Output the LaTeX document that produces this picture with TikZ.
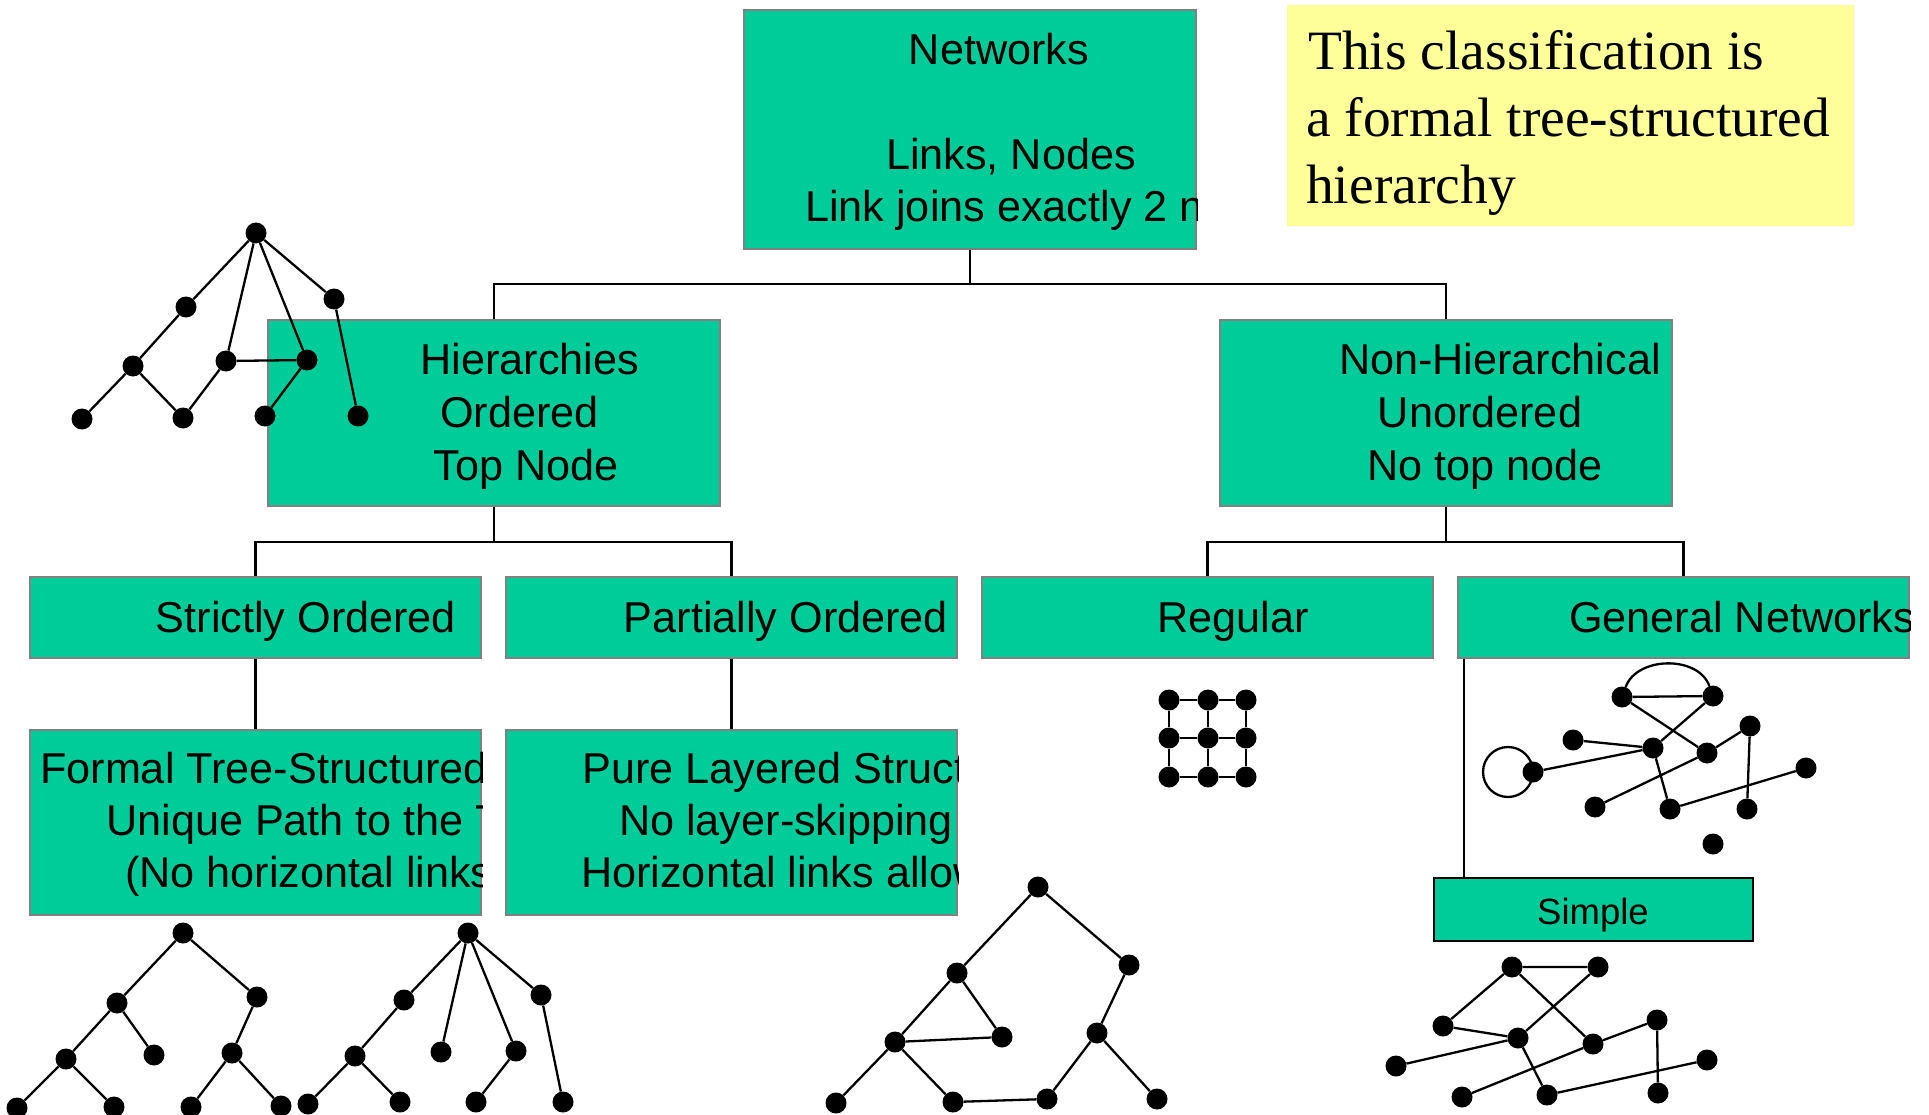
\documentclass[tikz,border=0pt]{standalone}
\usepackage{fontspec}
\setmainfont{Liberation Sans}
\newfontfamily\notefont{Liberation Serif}
\definecolor{boxgreen}{RGB}{0,204,153}
\definecolor{noteyellow}{RGB}{255,255,153}
\tikzset{
	box/.style={rectangle, draw=gray, line width=2.5pt, fill=boxgreen, inner sep=0},
	txt/.style={inner sep=0, anchor=base, font=\fontsize{43.2}{53}\selectfont},
	txtl/.style={txt, anchor=base west},
	notetxt/.style={inner sep=0, anchor=base west, font=\notefont\fontsize{55.5}{66}\selectfont},
	conn/.style={line width=2.2pt},
	vtx/.style={circle, fill=black, inner sep=0, minimum size=21pt},
	lnk/.style={line width=2.3pt}
}

\begin{document}
\begin{tikzpicture}[x=1pt, y=-1pt]
	\useasboundingbox (0,0) rectangle (1929,1115);
	% boxes
	\node[box, minimum width=452pt, minimum height=239pt] (net) at (970,129.5) {};
	\node[fill=noteyellow, inner sep=0, minimum width=567pt, minimum height=221pt] (note) at (1570.5,115.5) {};
	\node[box, minimum width=452pt, minimum height=186pt] (hier) at (494,413) {};
	\node[box, minimum width=452pt, minimum height=186pt] (nonh) at (1446,413) {};
	\node[box, minimum width=451pt, minimum height=81pt] (strict) at (255.5,617.5) {};
	\node[box, minimum width=451pt, minimum height=81pt] (partial) at (731.5,617.5) {};
	\node[box, minimum width=451pt, minimum height=81pt] (regular) at (1207.5,617.5) {};
	\node[box, minimum width=451pt, minimum height=81pt] (general) at (1683.5,617.5) {};
	\node[box, minimum width=451pt, minimum height=185pt] (formal) at (255.5,822.5) {};
	\node[box, minimum width=451pt, minimum height=185pt] (pure) at (731.5,822.5) {};
	\node[box, draw=black, line width=2.8pt, minimum width=319pt, minimum height=63pt] (simple) at (1593.5,909.5) {};

	% connectors
	\draw[conn] (net.south) -- ++(0,34) coordinate (j1);
	\draw[conn] (hier.north) |- (j1) -| (nonh.north);
	\draw[conn] (hier.south) -- ++(0,35) coordinate (j2);
	\draw[conn] (strict.north) |- (j2) -| (partial.north);
	\draw[conn] (nonh.south) -- ++(0,35) coordinate (j3);
	\draw[conn] (regular.north) |- (j3) -| (general.north);
	\draw[conn] (strict) -- (formal);
	\draw[conn] (partial) -- (pure);
	\coordinate (g0) at ([xshift=7.5pt]general.south west);
	\draw[conn] (g0) -- (g0 |- simple.north);

	% texts
	\node[txt] (netA) at (999,65) {Networks};
	\node[txt] (netB) at (1011,170) {Links, Nodes};
	\begin{scope}
		\clip (net.south west) rectangle (net.north east);
		\node[txtl] (netC) at (805,222) {Link joins exactly 2 n};
	\end{scope}
	\node[notetxt] (noteA) at (1308,70) {This classification is};
	\node[notetxt] (noteB) at (1306,137) {a formal tree-structured};
	\node[notetxt] (noteC) at (1306,204) {hierarchy};
	\node[txt] (hierA) at (530,374) {Hierarchies};
	\node[txt] (hierB) at (519.5,427) {Ordered};
	\node[txt] (hierC) at (526,480) {Top Node};
	\node[txt] (nonhA) at (1500,374) {Non-Hierarchical};
	\node[txt] (nonhB) at (1480,427) {Unordered};
	\node[txt] (nonhC) at (1485,480) {No top node};
	\node[txt] (strictA) at (306,632) {Strictly Ordered};
	\node[txt] (partialA) at (786,632) {Partially Ordered};
	\node[txt] (regularA) at (1233,632) {Regular};
	\begin{scope}
		\clip (general.south west) rectangle (general.north east);
		\node[txtl] (generalA) at (1569,632) {General Networks};
	\end{scope}
	\begin{scope}
		\clip (formal.south west) rectangle (formal.north east);
		\node[txtl] (formalA) at (40,783) {Formal Tree-Structured};
		\node[txtl] (formalB) at (106,835) {Unique Path to the T};
		\node[txtl] (formalC) at (125,887) {(No horizontal links};
	\end{scope}
	\begin{scope}
		\clip (pure.south west) rectangle (pure.north east);
		\node[txtl] (pureA) at (582,783) {Pure Layered Struct};
		\node[txtl] (pureB) at (619,835) {No layer-skipping};
		\node[txtl] (pureC) at (581,887) {Horizontal links allow};
	\end{scope}
	\node[txt, font=\fontsize{36.5}{44}\selectfont] (simpleA) at (1593,924) {Simple};

	% hierarchy with a horizontal link (top left)
	\node[vtx] (g1) at (256,233) {}; \node[vtx] (g2) at (186,307) {}; \node[vtx] (g3) at (334,299) {};
	\node[vtx] (g4) at (133,366) {}; \node[vtx] (g5) at (226,361) {}; \node[vtx] (g6) at (307,360) {};
	\node[vtx] (g7) at (82,419) {}; \node[vtx] (g8) at (183,418) {}; \node[vtx] (g9) at (265,416) {};
	\node[vtx] (g10) at (358,416) {};
	\draw[lnk] (g1) -- (g2) (g1) -- (g5) (g1) -- (g6) (g1) -- (g3) (g2) -- (g4) (g4) -- (g7)
		(g4) -- (g8) (g8) -- (g5) (g5) -- (g6) (g6) -- (g9) (g3) -- (g10);

	% binary tree
	\node[vtx] (t1) at (183,933) {}; \node[vtx] (t2) at (117,1003) {}; \node[vtx] (t3) at (257,997) {};
	\node[vtx] (t4) at (66,1059) {}; \node[vtx] (t5) at (154,1055) {}; \node[vtx] (t6) at (232,1053) {};
	\node[vtx] (t7) at (17,1108) {}; \node[vtx] (t8) at (114,1107) {}; \node[vtx] (t9) at (191,1107) {};
	\node[vtx] (t10) at (281,1106) {};
	\draw[lnk] (t1) -- (t2) (t1) -- (t3) (t2) -- (t4) (t2) -- (t5) (t4) -- (t7) (t4) -- (t8)
		(t3) -- (t6) (t6) -- (t9) (t6) -- (t10);

	% tree with four branches
	\node[vtx] (u1) at (468,933) {}; \node[vtx] (u2) at (404,1000) {}; \node[vtx] (u3) at (541,995) {};
	\node[vtx] (u4) at (355,1056) {}; \node[vtx] (u5) at (441,1052) {}; \node[vtx] (u6) at (516,1051) {};
	\node[vtx] (u7) at (308,1104) {}; \node[vtx] (u8) at (400,1102) {}; \node[vtx] (u9) at (476,1102) {};
	\node[vtx] (u10) at (563,1102) {};
	\draw[lnk] (u1) -- (u2) (u1) -- (u5) (u1) -- (u6) (u1) -- (u3) (u2) -- (u4) (u4) -- (u7)
		(u4) -- (u8) (u6) -- (u9) (u3) -- (u10);

	% layered structure
	\node[vtx] (p1) at (1038,887) {}; \node[vtx] (p2) at (957,973) {}; \node[vtx] (p3) at (1129,965) {};
	\node[vtx] (p4) at (895,1042) {}; \node[vtx] (p5) at (1002,1037) {}; \node[vtx] (p6) at (1097,1033) {};
	\node[vtx] (p7) at (836,1103) {}; \node[vtx] (p8) at (953,1102) {}; \node[vtx] (p9) at (1047,1099) {};
	\node[vtx] (p10) at (1157,1099) {};
	\draw[lnk] (p1) -- (p2) (p1) -- (p3) (p2) -- (p4) (p2) -- (p5) (p4) -- (p5) (p4) -- (p7)
		(p4) -- (p8) (p8) -- (p9) (p9) -- (p6) (p3) -- (p6) (p6) -- (p10);

	% regular grid
	\foreach \i/\x in {1/1169,2/1208,3/1246}
		\foreach \j/\y in {1/700,2/738,3/777}
			\node[vtx] (r\i\j) at (\x,\y) {};
	\foreach \i/\k in {1/2,2/3}
		\foreach \j in {1,2,3}
			\draw[lnk] (r\i\j) -- (r\k\j) (r\j\i) -- (r\j\k);

	% general network
	\node[vtx] (n1) at (1622,697) {}; \node[vtx] (n2) at (1713,696) {}; \node[vtx] (n3) at (1573,740) {};
	\node[vtx] (n4) at (1653,748) {}; \node[vtx] (n5) at (1707,753) {}; \node[vtx] (n6) at (1750,726) {};
	\node[vtx] (n7) at (1533,772) {}; \node[vtx] (n8) at (1806,768) {}; \node[vtx] (n9) at (1595,807) {};
	\node[vtx] (n10) at (1670,809) {}; \node[vtx] (n11) at (1747,809) {}; \node[vtx] (n12) at (1713,844) {};
	\draw[lnk] (n1) -- (n2) (n1) -- (n5) (n2) -- (n4) (n3) -- (n4) (n7) -- (n4) (n4) -- (n10)
		(n5) -- (n6) (n5) -- (n9) (n6) -- (n11) (n10) -- (n8);
	\draw[lnk] (n1) to[out=70, in=110] (n2);
	\draw[lnk] ([xshift=-25pt]n7.center) circle (25pt);

	% simple network
	\node[vtx] (s1) at (1512,967) {}; \node[vtx] (s2) at (1598,967) {}; \node[vtx] (s3) at (1443,1026) {};
	\node[vtx] (s4) at (1518,1038) {}; \node[vtx] (s5) at (1593,1044) {}; \node[vtx] (s6) at (1657,1020) {};
	\node[vtx] (s7) at (1396,1066) {}; \node[vtx] (s8) at (1707,1060) {}; \node[vtx] (s9) at (1462,1097) {};
	\node[vtx] (s10) at (1547,1095) {}; \node[vtx] (s11) at (1658,1093) {};
	\draw[lnk] (s1) -- (s2) (s1) -- (s3) (s1) -- (s5) (s2) -- (s4) (s3) -- (s4) (s4) -- (s7)
		(s4) -- (s10) (s5) -- (s6) (s5) -- (s9) (s6) -- (s11) (s10) -- (s8);
\end{tikzpicture}
\end{document}
